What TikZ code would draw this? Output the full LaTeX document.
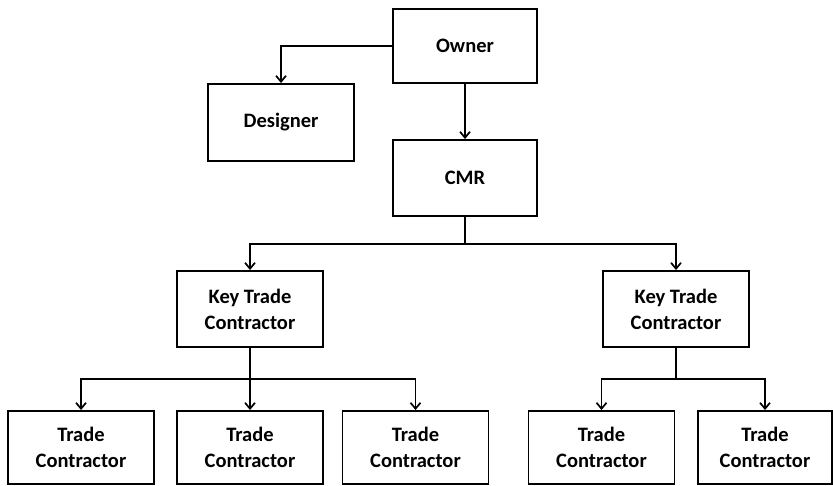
\documentclass[tikz,border=0pt]{standalone}
\usepackage{fontspec}
\setmainfont{Carlito}
\usepackage{tikz}
\usetikzlibrary{positioning,arrows.meta}

\begin{document}
\begin{tikzpicture}
            [x=1pt,y=-1pt,line width=1.7pt,>={Straight Barb[length=6pt,width=10pt]},
             every node/.style={draw, rectangle, line width=1.9pt, inner sep=0pt, align=center,
               minimum width=146pt, minimum height=73pt, font=\bfseries\fontsize{20.5}{26}\selectfont}]
          \useasboundingbox (0,0) rectangle (833,486);
          \node (owner) at (465,46) [minimum width=144pt, minimum height=74pt] {Owner};
          \node (des) at (281,122.5) [minimum height=77pt] {Designer};
          \node (cmr) at (465,178) [minimum width=144pt, minimum height=76pt] {CMR};

          \node (key1) at (250,309) [minimum height=76pt] {Key Trade\\Contractor};
          \node (key2) at (676,309) [minimum height=76pt] {Key Trade\\Contractor};

          \node (tc1) at (81,447.5) {Trade\\Contractor};
          \node (tc2) at (250,447.5) {Trade\\Contractor};
          \node (tc3) at (415.5,447.5) {Trade\\Contractor};
          \node (tc4) at (601.5,447.5) {Trade\\Contractor};
          \node (tc5) at (765,447.5) [minimum width=134pt] {Trade\\Contractor};

          \coordinate (j1) at (465,244);
          \coordinate (j2) at (250,379);
          \coordinate (j3) at (676,379);

          \draw[->] (owner.west) -| (des);
          \draw[->] (owner) -- (cmr);
          \foreach \from/\to in {cmr/j1, key1/j2, key2/j3}
            \draw (\from) -- (\to);
          \foreach \from/\to in {j1/key1, j1/key2, j2/tc1, j2/tc2, j2/tc3, j3/tc4, j3/tc5}
            \draw[->] (\from) -| (\to);
        \end{tikzpicture}
\end{document}
